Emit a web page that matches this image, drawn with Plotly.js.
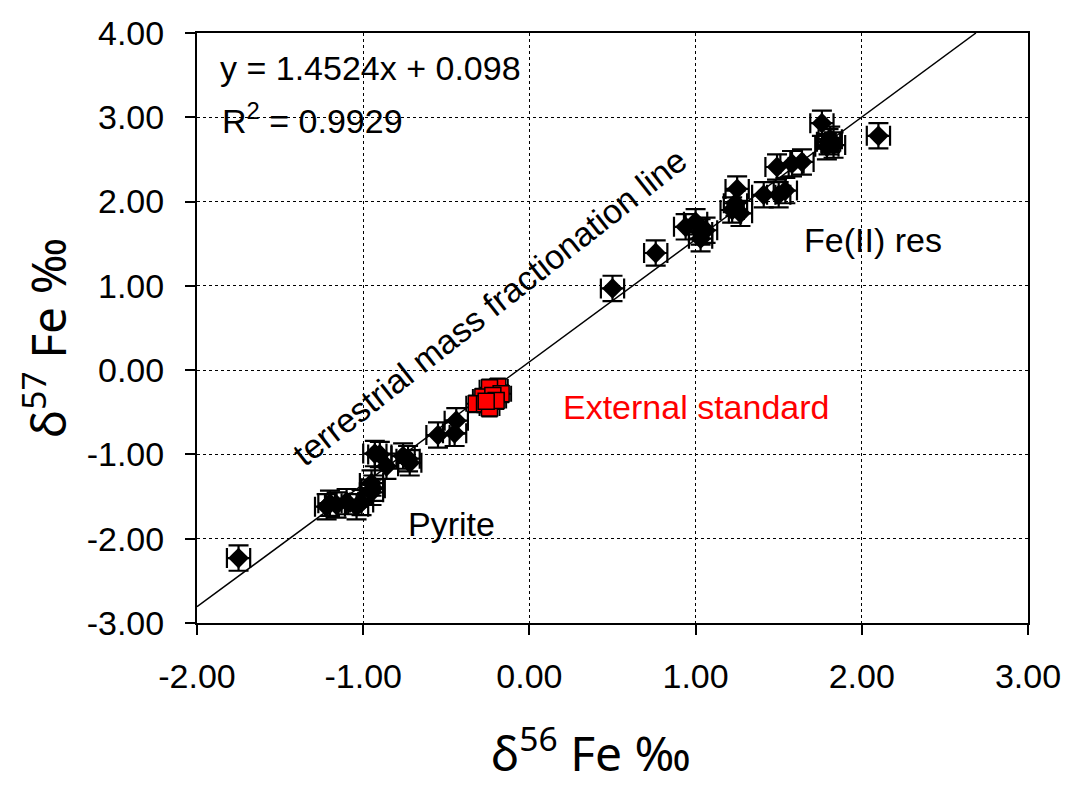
<!DOCTYPE html>
<html>
<head>
<meta charset="utf-8">
<script src="https://cdn.plot.ly/plotly-3.0.1.min.js"></script>
<style>html,body{margin:0;padding:0;background:#fff;}#chart{width:1069px;height:787px;}</style>
</head>
<body>
<div id="chart"></div>
<script>
// Sample data: δ56Fe (x) and δ57Fe (y), with 2σ errors
const sampleX = [-1.75, -1.22, -1.20, -1.16, -1.10, -1.04, -1.01, -0.95, -0.95, -0.94, -0.93, -0.90, -0.86, -0.76, -0.73, -0.72, -0.55, -0.45, -0.44,
                 0.50, 0.76, 0.94, 1.00, 1.03, 1.03, 1.06, 1.22, 1.24, 1.25, 1.27, 1.41, 1.50, 1.54, 1.49, 1.58, 1.64, 1.76, 1.79, 1.80, 1.83, 1.81, 2.10];
const sampleY = [-2.23, -1.62, -1.58, -1.60, -1.56, -1.62, -1.57, -1.45, -1.34, -1.40, -0.99, -1.00, -1.14, -1.02, -1.05, -1.10, -0.77, -0.75, -0.60,
                 0.97, 1.39, 1.70, 1.76, 1.64, 1.56, 1.66, 1.90, 1.98, 2.15, 1.86, 2.08, 2.08, 2.13, 2.41, 2.45, 2.47, 2.93, 2.65, 2.71, 2.67, 2.74, 2.78];
const sampleXErr = 0.07;
const sampleYErr = 0.15;

// External standard
const stdX = [-0.19, -0.24, -0.17, -0.28, -0.22, -0.32, -0.27, -0.24, -0.20, -0.26];
const stdY = [-0.20, -0.21, -0.28, -0.32, -0.30, -0.40, -0.40, -0.45, -0.36, -0.37];
const stdXErr = 0.06;
const stdYErr = 0.10;

// Regression line y = 1.4524x + 0.098
const fitSlope = 1.4524;
const fitIntercept = 0.098;
const fitX = [-2.0, (4.0 - fitIntercept) / fitSlope];
const fitY = fitX.map(x => fitSlope * x + fitIntercept);

const xTicks = [-2, -1, 0, 1, 2, 3];
const xTickLabels = ['-2.00', '-1.00', '0.00', '1.00', '2.00', '3.00'];
const yTicks = [-3, -2, -1, 0, 1, 2, 3, 4];
const yTickLabels = ['-3.00', '-2.00', '-1.00', '0.00', '1.00', '2.00', '3.00', '4.00'];

const xTitle = 'δ<sup>56</sup> Fe ‰';
const yTitle = 'δ<sup>57</sup> Fe ‰';

const txt = {family: 'Liberation Sans, Arial, sans-serif', color: '#000'};
const titleFont = {family: 'Noto Sans, sans-serif', size: 48, color: '#000'};
const FS = 34;

const traces = [
  {x: fitX, y: fitY, mode: 'lines', line: {color: '#000', width: 1.5}, hoverinfo: 'skip'},
  {x: stdX, y: stdY, mode: 'markers', type: 'scatter',
   marker: {symbol: 'square', size: 16, color: '#ff0000', line: {color: '#000', width: 1.5}},
   error_x: {type: 'constant', value: stdXErr, color: '#000', thickness: 2, width: 8},
   error_y: {type: 'constant', value: stdYErr, color: '#000', thickness: 2, width: 8}},
  {x: sampleX, y: sampleY, mode: 'markers', type: 'scatter',
   marker: {symbol: 'diamond', size: 16, color: '#000'},
   error_x: {type: 'constant', value: sampleXErr, color: '#000', thickness: 2.2, width: 10},
   error_y: {type: 'constant', value: sampleYErr, color: '#000', thickness: 2.2, width: 10}}
];

const axisCommon = {
  showline: true, linecolor: '#000', linewidth: 2, mirror: true,
  ticks: 'outside', ticklen: 10, tickwidth: 2, tickcolor: '#000',
  showgrid: true, gridcolor: '#000', gridwidth: 1.2, griddash: 'dot',
  zeroline: false,
  tickfont: Object.assign({size: FS}, txt)
};

const layout = {
  width: 1069, height: 787,
  margin: {l: 197, r: 41, t: 33, b: 164},
  paper_bgcolor: '#fff', plot_bgcolor: '#fff',
  showlegend: false,
  xaxis: Object.assign({}, axisCommon, {
    range: [-2, 3], tickmode: 'array', tickvals: xTicks, ticktext: xTickLabels, ticklabelstandoff: 12
  }),
  yaxis: Object.assign({}, axisCommon, {
    range: [-3, 4], tickmode: 'array', tickvals: yTicks, ticktext: yTickLabels, ticklabelstandoff: 14
  }),
  annotations: [
    {xref: 'paper', yref: 'paper', x: 0.474, y: -0.216, xanchor: 'center', yanchor: 'middle', showarrow: false,
     text: xTitle, font: titleFont},
    {xref: 'paper', yref: 'paper', x: -0.183, y: 0.483, xanchor: 'center', yanchor: 'middle', showarrow: false,
     textangle: -90, text: yTitle, font: titleFont},
    {xref: 'paper', yref: 'paper', x: 0.025, y: 0.94, xanchor: 'left', yanchor: 'middle', showarrow: false,
     text: 'y = 1.4524x + 0.098', font: Object.assign({size: FS}, txt)},
    {xref: 'paper', yref: 'paper', x: 0.028, y: 0.855, xanchor: 'left', yanchor: 'middle', showarrow: false,
     text: 'R<sup>2</sup> = 0.9929', font: Object.assign({size: FS}, txt)},
    {xref: 'x', yref: 'y', x: -0.24, y: 0.75, showarrow: false, textangle: -38.2,
     text: 'terrestrial mass fractionation line', font: Object.assign({size: FS}, txt)},
    {xref: 'x', yref: 'y', x: 2.067, y: 1.54, showarrow: false,
     text: 'Fe(II) res', font: Object.assign({size: FS}, txt)},
    {xref: 'x', yref: 'y', x: -0.466, y: -1.83, showarrow: false,
     text: 'Pyrite', font: Object.assign({size: FS}, txt)},
    {xref: 'x', yref: 'y', x: 1.008, y: -0.44, showarrow: false,
     text: 'External standard', font: {family: 'Liberation Sans, Arial, sans-serif', size: FS, color: '#ff0000'}}
  ]
};

Plotly.newPlot('chart', traces, layout, {displayModeBar: false, staticPlot: true});
</script>
</body>
</html>
